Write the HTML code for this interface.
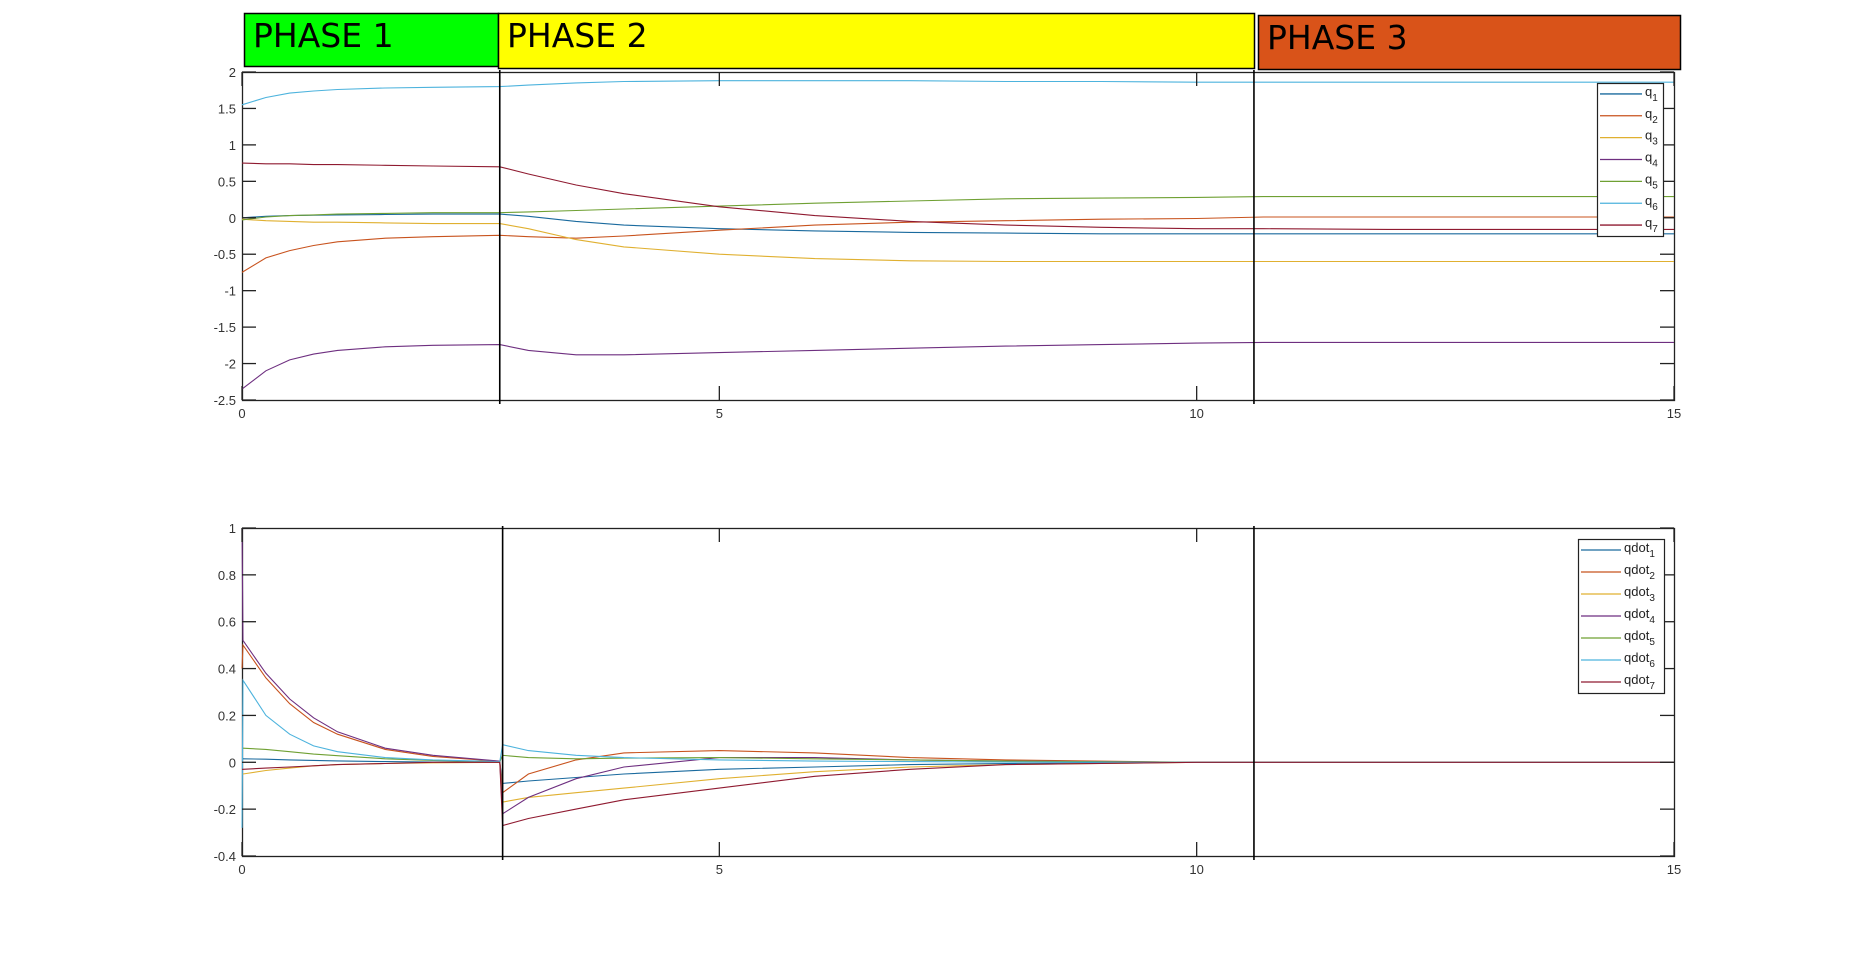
<!DOCTYPE html>
<html><head><meta charset="utf-8">
<style>
body{margin:0;background:#fff;width:1850px;height:961px;overflow:hidden;font-family:"Liberation Sans","DejaVu Sans",sans-serif;}
svg{position:absolute;left:0;top:0}
</style></head>
<body>
<svg id="chart" width="1850" height="961" xmlns="http://www.w3.org/2000/svg">
  <g>
    <rect x="244.5" y="13.5" width="254" height="53" fill="#00ff00" stroke="#000" stroke-width="1.5"/>
    <text x="253" y="47" font-size="33" font-family="DejaVu Sans, sans-serif">PHASE 1</text>
    <rect x="498.5" y="13.5" width="756" height="55" fill="#ffff00" stroke="#000" stroke-width="1.5"/>
    <text x="507" y="47" font-size="33" font-family="DejaVu Sans, sans-serif">PHASE 2</text>
    <rect x="1258.5" y="15.5" width="422" height="54" fill="#d95319" stroke="#000" stroke-width="1.5"/>
    <text x="1267" y="49" font-size="33" font-family="DejaVu Sans, sans-serif">PHASE 3</text>
  </g>
  <g id="top"></g>
  <g id="bot"></g>
</svg>
<script>
const colors=['#1a6a9e','#c8531e','#e0b030','#6e2f80','#6fa033','#4db3dd','#8f1a30'];
// top plot data
const tq=[0,0.25,0.5,0.75,1,1.5,2,2.7,3,3.5,4,5,6,7,8,9,10,10.7,12,15];
const q1=[0,0.02,0.03,0.035,0.04,0.045,0.05,0.05,0.02,-0.05,-0.1,-0.15,-0.18,-0.2,-0.21,-0.22,-0.22,-0.22,-0.22,-0.22];
const q2=[-0.75,-0.55,-0.45,-0.38,-0.33,-0.28,-0.26,-0.24,-0.26,-0.28,-0.25,-0.17,-0.1,-0.06,-0.04,-0.02,-0.01,0.01,0.01,0.01];
const q3=[-0.02,-0.04,-0.05,-0.06,-0.06,-0.07,-0.08,-0.08,-0.15,-0.3,-0.4,-0.5,-0.56,-0.59,-0.6,-0.6,-0.6,-0.6,-0.6,-0.6];
const q4=[-2.35,-2.1,-1.95,-1.87,-1.82,-1.77,-1.75,-1.74,-1.82,-1.88,-1.88,-1.85,-1.82,-1.79,-1.76,-1.74,-1.72,-1.71,-1.71,-1.71];
const q5=[-0.03,0.01,0.03,0.04,0.05,0.06,0.07,0.07,0.08,0.1,0.12,0.16,0.2,0.23,0.26,0.27,0.28,0.29,0.29,0.29];
const q6=[1.55,1.65,1.71,1.74,1.76,1.78,1.79,1.8,1.82,1.85,1.87,1.88,1.88,1.88,1.87,1.87,1.86,1.86,1.86,1.86];
const q7=[0.75,0.74,0.74,0.73,0.73,0.72,0.71,0.7,0.6,0.45,0.33,0.15,0.03,-0.05,-0.1,-0.13,-0.15,-0.15,-0.16,-0.16];
// bottom plot data
const tqd=[0,0.01,0.25,0.5,0.75,1,1.5,2,2.7,2.73,3,3.5,4,5,6,7,8,10,15];
const qd1=[0.015,0.015,0.013,0.01,0.008,0.006,0.003,0.001,0,-0.09,-0.08,-0.065,-0.05,-0.03,-0.02,-0.01,-0.005,0,0];
const qd2=[0.4,0.5,0.36,0.25,0.17,0.12,0.055,0.025,0.004,-0.13,-0.05,0.01,0.04,0.05,0.04,0.02,0.01,0,0];
const qd3=[-0.05,-0.05,-0.035,-0.025,-0.015,-0.01,-0.005,-0.002,0,-0.17,-0.15,-0.13,-0.11,-0.07,-0.04,-0.02,-0.01,0,0];
const qd4=[1,0.52,0.38,0.27,0.19,0.13,0.06,0.03,0.005,-0.22,-0.15,-0.07,-0.02,0.02,0.02,0.01,0.005,0,0];
const qd5=[0.06,0.06,0.055,0.045,0.035,0.028,0.015,0.008,0.002,0.03,0.02,0.015,0.018,0.02,0.015,0.01,0.005,0,0];
const qd6=[-0.28,0.35,0.2,0.12,0.07,0.045,0.02,0.01,0.003,0.075,0.05,0.03,0.02,0.01,0.005,0.003,0.001,0,0];
const qd7=[-0.03,-0.03,-0.025,-0.02,-0.015,-0.01,-0.005,0,0,-0.27,-0.24,-0.2,-0.16,-0.11,-0.06,-0.03,-0.01,0,0];
const xTicks=[0,5,10,15];
const topYTicks=[-2.5,-2,-1.5,-1,-0.5,0,0.5,1,1.5,2];
const botYTicks=[-0.4,-0.2,0,0.2,0.4,0.6,0.8,1];
const topPhaseT=[2.7,10.6];
const botPhaseT=[2.73,10.6];

const NS='http://www.w3.org/2000/svg';
function mk(parent,tag,attrs){const e=document.createElementNS(NS,tag);for(const k in attrs)e.setAttribute(k,attrs[k]);parent.appendChild(e);return e;}

function drawPlot(g,o){
  const X0=242,X1=1674;
  const sx=t=>X0+(t-0)/(15-0)*(X1-X0);
  const sy=v=>o.y1-(v-o.ymin)/(o.ymax-o.ymin)*(o.y1-o.y0);
  const box=mk(g,'rect',{x:X0+0.5,y:o.y0+0.5,width:X1-X0,height:o.y1-o.y0,fill:'#fff',stroke:'#222','stroke-width':1.3});
  
  
  o.series.forEach((s,i)=>{
    const d=s.map((v,j)=>(j?'L':'M')+sx(o.t[j]).toFixed(1)+','+sy(v).toFixed(1)).join('');
    const p=mk(g,'path',{d:d,fill:'none',stroke:colors[i],'stroke-width':1.1});
    
    
  });
  o.phases.forEach((t,i)=>{
    const l=mk(g,'line',{x1:sx(t),x2:sx(t),y1:o.y0-2,y2:o.y1+4,stroke:'#000','stroke-width':1.6});
    
    
  });
  xTicks.forEach(t=>{
    const x=sx(t);
    mk(g,'line',{x1:x,x2:x,y1:o.y1,y2:o.y1-14,stroke:'#222','stroke-width':1.3});
    mk(g,'line',{x1:x,x2:x,y1:o.y0,y2:o.y0+14,stroke:'#222','stroke-width':1.3});
    const tx=mk(g,'text',{x:x,y:o.y1+18,'font-size':13,'text-anchor':'middle',fill:'#333'});
    tx.textContent=t;
    
    
  });
  o.yTicks.forEach(v=>{
    const y=sy(v);
    mk(g,'line',{x1:X0,x2:X0+14,y1:y,y2:y,stroke:'#222','stroke-width':1.3});
    mk(g,'line',{x1:X1,x2:X1-14,y1:y,y2:y,stroke:'#222','stroke-width':1.3});
    const tx=mk(g,'text',{x:X0-6,y:y+5,'font-size':13,'text-anchor':'end',fill:'#333'});
    tx.textContent=v;
    
    
  });
  const lg=mk(g,'g',{});
  
  
  mk(lg,'rect',{x:o.lx+0.5,y:o.ly+0.5,width:o.lw,height:o.lh,fill:'#fff',stroke:'#222','stroke-width':1.2});
  const step=o.lh/7;
  o.labels.forEach((lab,i)=>{
    const y=o.ly+step*(i+0.5);
    mk(lg,'line',{x1:o.lx+3,x2:o.lx+3+o.lineLen,y1:y,y2:y,stroke:colors[i],'stroke-width':1.3});
    const tx=mk(lg,'text',{x:o.lx+6+o.lineLen,y:y+2,'font-size':13,fill:'#222'});
    
    
    tx.textContent=o.base;
    const sub=mk(tx,'tspan',{dy:5,'font-size':10});
    sub.textContent=String(i+1);
  });
}
drawPlot(document.getElementById('top'),{name:'joint-position',y0:72,y1:400,ymin:-2.5,ymax:2,t:tq,
  series:[q1,q2,q3,q4,q5,q6,q7],labels:['q1','q2','q3','q4','q5','q6','q7'],base:'q',
  yTicks:topYTicks,phases:topPhaseT,lx:1597,ly:83,lw:66,lh:153,lineLen:42});
drawPlot(document.getElementById('bot'),{name:'joint-velocity',y0:528,y1:856,ymin:-0.4,ymax:1,t:tqd,
  series:[qd1,qd2,qd3,qd4,qd5,qd6,qd7],labels:['qdot1','qdot2','qdot3','qdot4','qdot5','qdot6','qdot7'],base:'qdot',
  yTicks:botYTicks,phases:botPhaseT,lx:1578,ly:539,lw:86,lh:154,lineLen:40});
</script>
</body></html>
